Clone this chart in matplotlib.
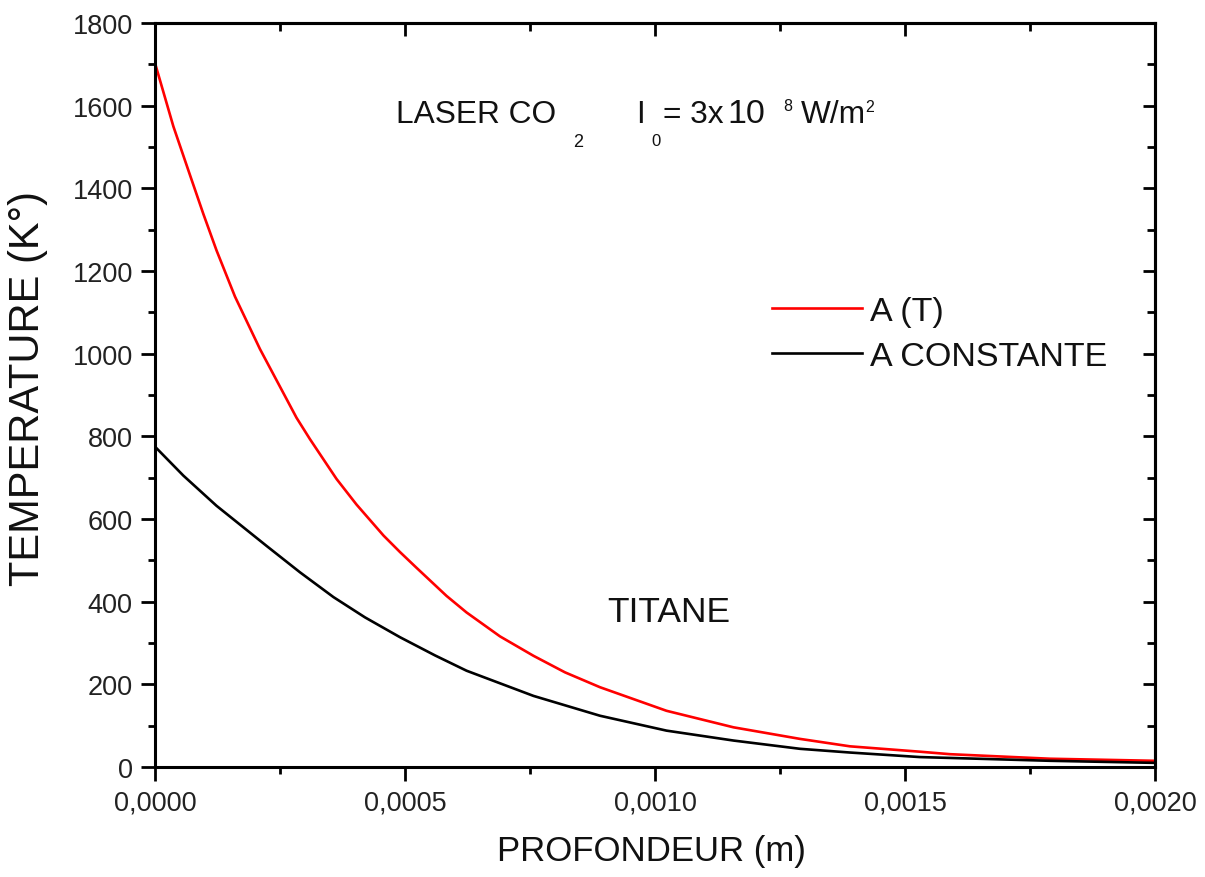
import matplotlib
matplotlib.use("Agg")
import matplotlib.pyplot as plt
from matplotlib.ticker import MultipleLocator, FuncFormatter

plt.rcParams['font.family'] = ['Liberation Sans', 'DejaVu Sans']

# Data
depth_at = [0.0, 0.0000367, 0.00007, 0.0000967, 0.000123, 0.00016, 0.00021, 0.000283,
            0.00031, 0.000363, 0.000403, 0.000457, 0.00049, 0.000523, 0.000583, 0.000623,
            0.00069, 0.000757, 0.00082, 0.00089, 0.001023, 0.001157, 0.00129, 0.00139,
            0.00153, 0.00159, 0.00179, 0.002]
temp_at = [1703, 1550, 1432, 1338, 1250, 1138, 1011, 845,
           793, 697, 635, 560, 520, 482, 414, 374,
           316, 269, 229, 193, 136, 96, 68, 50,
           37, 31, 20, 15]

depth_ac = [0.0, 0.0000567, 0.000123, 0.000223, 0.00029, 0.000357, 0.00042, 0.00049,
            0.00056, 0.000623, 0.000757, 0.00089, 0.001023, 0.001157, 0.00129, 0.00139,
            0.00153, 0.00179, 0.002]
temp_ac = [775, 705, 632, 535, 471, 411, 362, 314,
           270, 233, 172, 124, 88, 64, 44, 35,
           24, 15, 10]

label_at = "A (T)"
label_ac = "A CONSTANTE"
xlabel = "PROFONDEUR (m)"
ylabel = "TEMPERATURE (K°)"

W, H = 1205, 878
fig = plt.figure(figsize=(W / 100, H / 100), dpi=100)
ax = fig.add_axes([155 / W, 1 - 768 / H, 1000 / W, 744 / H])

ax.plot(depth_at, temp_at, color='#ff0000', lw=1.9, label=label_at)
ax.plot(depth_ac, temp_ac, color='black', lw=1.9, label=label_ac)

ax.set_xlim(0, 0.002)
ax.set_ylim(0, 1800)
ax.xaxis.set_major_locator(MultipleLocator(0.0005))
ax.xaxis.set_minor_locator(MultipleLocator(0.00025))
ax.yaxis.set_major_locator(MultipleLocator(200))
ax.yaxis.set_minor_locator(MultipleLocator(100))
ax.xaxis.set_major_formatter(FuncFormatter(lambda v, p: f"{v:.4f}".replace('.', ',')))

for s in ax.spines.values():
    s.set_linewidth(2.2)

ax.tick_params(which='both', direction='out', width=2.0, labelsize=19.5, colors='black')
ax.tick_params(axis='both', which='major', length=10, pad=6)
ax.tick_params(axis='both', which='minor', length=5)
for lab in ax.get_xticklabels() + ax.get_yticklabels():
    lab.set_color('#222222')

# inward ticks on top and right
top = ax.secondary_xaxis('top')
top.xaxis.set_major_locator(MultipleLocator(0.0005))
top.xaxis.set_minor_locator(MultipleLocator(0.00025))
top.tick_params(which='both', direction='in', width=2.0, labeltop=False)
top.tick_params(which='major', length=9)
top.tick_params(which='minor', length=6)
right = ax.secondary_yaxis('right')
right.yaxis.set_major_locator(MultipleLocator(200))
right.yaxis.set_minor_locator(MultipleLocator(100))
right.tick_params(which='both', direction='in', width=2.0, labelright=False)
right.tick_params(which='major', length=9)
right.tick_params(which='minor', length=6)
top.spines['top'].set_linewidth(2.2)
right.spines['right'].set_linewidth(2.2)

fig.text(651 / W, 1 - 852 / H, xlabel, fontsize=25, ha='center', va='center', color='#111111')
fig.text(28 / W, 1 - 388 / H, ylabel, fontsize=30, ha='center', va='center',
         rotation=90, color='#111111')

# annotation
def ftext(x, y, s, size):
    fig.text(x / W, 1 - y / H, s, fontsize=size, ha='left', va='baseline', color='#111111')

ftext(396, 123, "LASER CO", 22.8)
ftext(573, 147, "2", 13)
ftext(636, 123, "I", 22.8)
ftext(651, 146, "0", 12)
ftext(663, 123, "= 3x", 22.8)
ftext(727, 123, "10", 24.5)
ftext(783, 111, "8", 11.5)
ftext(801, 123, "W/m", 22.8)
ftext(865, 112, "2", 11.5)
ftext(607, 622, "TITANE", 25.5)

leg = ax.legend(loc='upper left', bbox_to_anchor=(772 / W, 1 - 297 / H),
                bbox_transform=fig.transFigure, frameon=False, fontsize=24.5,
                handlelength=2.65, handletextpad=0.22, labelspacing=0.4,
                borderpad=0, borderaxespad=0)
for t in leg.get_texts():
    t.set_color('#111111')

fig.savefig("out.png", dpi=100)
